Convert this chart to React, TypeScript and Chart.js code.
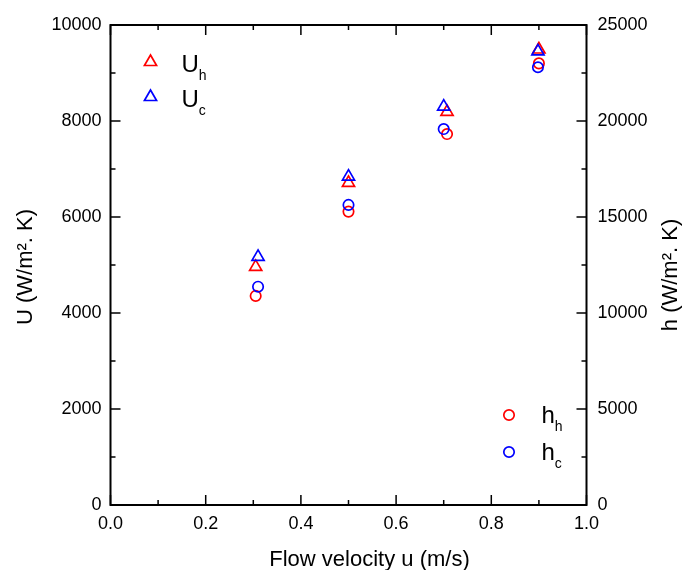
import React, { useEffect, useRef } from "react";
import { Chart, registerables } from "chart.js";
Chart.register(...registerables);

// ---- data ----
const uhX = [0.305, 0.5, 0.707, 0.9];
const uhY = [4960, 6710, 8190, 9490];
const ucX = [0.31, 0.5, 0.7, 0.898];
const ucY = [5170, 6840, 8300, 9450];
const hhX = [0.305, 0.5, 0.707, 0.9];
const hhY = [10890, 15280, 19320, 23000];
const hcX = [0.31, 0.5, 0.7, 0.898];
const hcY = [11370, 15630, 19580, 22800];

const xTicks = [0, 0.2, 0.4, 0.6, 0.8, 1.0];
const yTicks = [0, 2000, 4000, 6000, 8000, 10000];
const y2Ticks = [0, 5000, 10000, 15000, 20000, 25000];

const xTitle = "Flow velocity u (m/s)";
const yTitle = "U (W/m². K)";
const y2Title = "h (W/m². K)";

const labels = ["U_h", "U_c", "h_h", "h_c"];

const FONT = '"Liberation Sans", Arial, sans-serif';
const RED = "#ff0000";
const BLUE = "#0000ff";
const TRI_R = 7;
const CIR_R = 5.2;
const MARK_W = 1.7;

function pts(xs: number[], ys: number[]) {
  return xs.map((x, i) => ({ x, y: ys[i] }));
}

function drawMarker(ctx: CanvasRenderingContext2D, style: string, x: number, y: number, color: string) {
  ctx.save();
  ctx.strokeStyle = color;
  ctx.lineWidth = MARK_W;
  ctx.beginPath();
  if (style === "triangle") {
    const r = TRI_R;
    let rad = 0;
    ctx.moveTo(x + Math.sin(rad) * r, y - Math.cos(rad) * r);
    rad += (2 * Math.PI) / 3;
    ctx.lineTo(x + Math.sin(rad) * r, y - Math.cos(rad) * r);
    rad += (2 * Math.PI) / 3;
    ctx.lineTo(x + Math.sin(rad) * r, y - Math.cos(rad) * r);
    ctx.closePath();
  } else {
    ctx.arc(x, y, CIR_R, 0, Math.PI * 2);
  }
  ctx.stroke();
  ctx.restore();
}

function drawSubLabel(ctx: CanvasRenderingContext2D, label: string, x: number, baseline: number) {
  const [main, sub] = label.split("_");
  ctx.save();
  ctx.fillStyle = "#000";
  ctx.textBaseline = "alphabetic";
  ctx.textAlign = "left";
  ctx.font = `24px ${FONT}`;
  ctx.fillText(main, x, baseline);
  const w = ctx.measureText(main).width;
  ctx.font = `14px ${FONT}`;
  ctx.fillText(sub || "", x + w, baseline + 8);
  ctx.restore();
}

const framePlugin = {
  id: "frameAndDecor",
  afterDraw(chart: any) {
    const { ctx, chartArea } = chart;
    const { left, right, top, bottom } = chartArea;
    const xs = chart.scales.x;
    const ys = chart.scales.y;
    const y2s = chart.scales.y2;
    ctx.save();
    ctx.strokeStyle = "#000";
    ctx.lineWidth = 2;
    ctx.strokeRect(left, top, right - left, bottom - top);

    ctx.lineWidth = 1.5;
    ctx.beginPath();
    // x ticks (every 0.1, major every 0.2)
    for (let i = 0; i <= 10; i++) {
      const px = xs.getPixelForValue(i / 10);
      const len = i % 2 === 0 ? 10 : 5;
      ctx.moveTo(px, bottom);
      ctx.lineTo(px, bottom - len);
      ctx.moveTo(px, top);
      ctx.lineTo(px, top + len);
    }
    // left y ticks
    for (let i = 0; i <= 10; i++) {
      const py = ys.getPixelForValue(i * 1000);
      const len = i % 2 === 0 ? 10 : 5;
      ctx.moveTo(left, py);
      ctx.lineTo(left + len, py);
    }
    // right y ticks
    for (let i = 0; i <= 10; i++) {
      const py = y2s.getPixelForValue(i * 2500);
      const len = i % 2 === 0 ? 10 : 5;
      ctx.moveTo(right, py);
      ctx.lineTo(right - len, py);
    }
    ctx.stroke();

    // axis titles
    ctx.fillStyle = "#000";
    ctx.font = `22px ${FONT}`;
    ctx.textAlign = "center";
    ctx.textBaseline = "alphabetic";
    ctx.fillText(xTitle, (left + right) / 2 + 21, 566);

    ctx.save();
    ctx.translate(26, (top + bottom) / 2 + 2);
    ctx.rotate(-Math.PI / 2);
    ctx.textBaseline = "middle";
    ctx.fillText(yTitle, 0, 0);
    ctx.restore();

    ctx.save();
    ctx.translate(671, (top + bottom) / 2 + 10);
    ctx.rotate(-Math.PI / 2);
    ctx.textBaseline = "middle";
    ctx.fillText(y2Title, 0, 0);
    ctx.restore();

    // legends
    const dsets = chart.data.datasets;
    [0, 1].forEach((k, j) => {
      const d = dsets.find((ds: any) => ds.label === labels[k]);
      const my = top + 37 + j * 35;
      drawMarker(ctx, d.pointStyle, left + 40, my, d.borderColor);
      drawSubLabel(ctx, d.label, left + 71, my + 9.7);
    });
    [2, 3].forEach((k, j) => {
      const d = dsets.find((ds: any) => ds.label === labels[k]);
      const my = bottom - 90 + j * 37;
      drawMarker(ctx, d.pointStyle, right - 77.5, my, d.borderColor);
      drawSubLabel(ctx, d.label, right - 45, my + 8.3);
    });
    ctx.restore();
  },
};

export default function App() {
  const ref = useRef<HTMLCanvasElement | null>(null);
  useEffect(() => {
    document.body.style.margin = "0";
    const canvas = ref.current!;
    const tickFont = { family: FONT, size: 18 };
    const common = { pointBorderWidth: MARK_W, backgroundColor: "rgba(0,0,0,0)" };
    const chart = new Chart(canvas, {
      type: "scatter",
      data: {
        datasets: [
          { ...common, label: labels[0], data: pts(uhX, uhY), yAxisID: "y", pointStyle: "triangle", pointRadius: TRI_R, borderColor: RED, order: 1 },
          { ...common, label: labels[1], data: pts(ucX, ucY), yAxisID: "y", pointStyle: "triangle", pointRadius: TRI_R, borderColor: BLUE, order: 0 },
          { ...common, label: labels[2], data: pts(hhX, hhY), yAxisID: "y2", pointStyle: "circle", pointRadius: CIR_R, borderColor: RED, order: 1 },
          { ...common, label: labels[3], data: pts(hcX, hcY), yAxisID: "y2", pointStyle: "circle", pointRadius: CIR_R, borderColor: BLUE, order: 0 },
        ] as any,
      },
      options: {
        responsive: false,
        animation: false,
        layout: { padding: { top: 25, left: 0, right: 0, bottom: 0 } },
        plugins: { legend: { display: false }, tooltip: { enabled: false } },
        scales: {
          x: {
            type: "linear",
            min: 0,
            max: 1,
            grid: { display: false, drawTicks: false },
            border: { display: false },
            afterBuildTicks: (s: any) => { s.ticks = xTicks.map((v) => ({ value: v })); },
            afterFit: (s: any) => { s.height = 65; },
            ticks: { font: tickFont, color: "#000", padding: 8, maxRotation: 0, callback: (v: any) => Number(v).toFixed(1) },
          },
          y: {
            type: "linear",
            position: "left",
            min: 0,
            max: 10000,
            grid: { display: false, drawTicks: false },
            border: { display: false },
            afterBuildTicks: (s: any) => { s.ticks = yTicks.map((v) => ({ value: v })); },
            afterFit: (s: any) => { s.width = 110.5; },
            ticks: { font: tickFont, color: "#000", padding: 9, callback: (v: any) => String(v) },
          },
          y2: {
            type: "linear",
            position: "right",
            min: 0,
            max: 25000,
            grid: { display: false, drawTicks: false },
            border: { display: false },
            afterBuildTicks: (s: any) => { s.ticks = y2Ticks.map((v) => ({ value: v })); },
            afterFit: (s: any) => { s.width = 96.5; },
            ticks: { font: tickFont, color: "#000", padding: 11, callback: (v: any) => String(v) },
          },
        },
      } as any,
      plugins: [framePlugin],
    });
    return () => chart.destroy();
  }, []);
  return (
    <div style={{ width: 683, height: 570 }}>
      <canvas ref={ref} width={683} height={570} />
    </div>
  );
}
